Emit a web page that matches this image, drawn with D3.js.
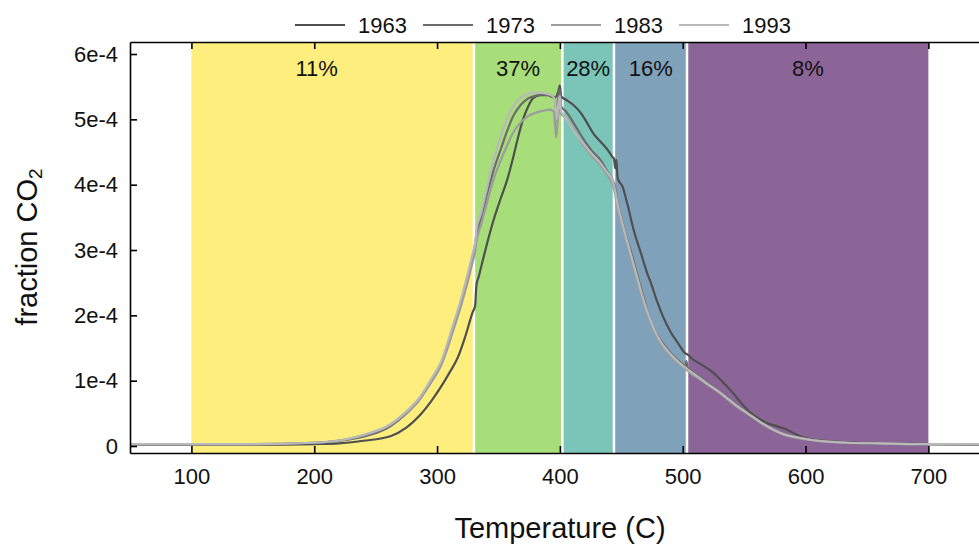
<!DOCTYPE html>
<html><head><meta charset="utf-8">
<script src="https://cdn.jsdelivr.net/npm/d3@7"></script>
<style>body{margin:0;background:#fff}text{font-family:"Liberation Sans",Arial,sans-serif;fill:#111}</style>
</head><body><svg id="c" width="979" height="546"></svg>
<script>
// ---- data (values in units of 1e-4) ----
const years = ["1963","1973","1983","1993"];
const lineColors = ["#4f4f4f","#6c6c6c","#9c9c9c","#b9b9b9"];
const bandEdges = [100,330,402,444,503.5,700];
const bandColors = ["#fdee7d","#a8de7a","#7ac4b8","#80a1ba","#8b6597"];
const bandLabels = ["11%","37%","28%","16%","8%"];
const bandLabelT = [202,366,423,474,602];
const xTicks = [100,200,300,400,500,600,700];
const yTicks = [0,1,2,3,4,5,6];
const yTickLabels = ["0","1e-4","2e-4","3e-4","4e-4","5e-4","6e-4"];

const s1963 = [[50,0.02],[100,0.02],[150,0.02],[200,0.03],[220,0.04],[240,0.08],[262,0.15],[275,0.28],[286,0.47],[295,0.68],[303,0.90],[310,1.12],[317,1.36],[323,1.68],[329,2.05],[331,2.15],[332,2.45],[334,2.60],[336,2.75],[340,3.05],[346,3.46],[352,3.80],[357,4.07],[362,4.42],[366,4.73],[370,5.00],[374,5.19],[378,5.32],[384,5.37],[390,5.37],[396,5.33],[399,5.45],[400,5.52],[401,5.35],[405,5.30],[411,5.22],[417,5.10],[422,4.95],[427,4.79],[433,4.66],[439,4.53],[443,4.42],[444,4.40],[445,4.25],[446,4.38],[447,4.10],[451,3.97],[455,3.70],[460,3.31],[466,2.95],[471,2.65],[474,2.50],[479,2.22],[484,1.98],[490,1.75],[496,1.58],[502,1.42],[504,1.40],[508,1.33],[515,1.25],[525,1.12],[533,0.97],[541,0.81],[548,0.65],[555,0.51],[562,0.42],[569,0.35],[577,0.30],[585,0.25],[592,0.18],[600,0.12],[620,0.07],[650,0.04],[700,0.03],[750,0.02]];
const s1973 = [[50,0.03],[100,0.03],[150,0.03],[200,0.05],[225,0.09],[245,0.17],[260,0.28],[272,0.45],[286,0.72],[295,0.98],[303,1.25],[313,1.80],[320,2.22],[325,2.58],[329,2.90],[331,3.10],[332,3.22],[336,3.50],[341,3.88],[346,4.22],[352,4.55],[357,4.82],[362,5.05],[368,5.22],[374,5.32],[380,5.36],[387,5.38],[393,5.36],[396,5.33],[397.5,4.98],[399,5.38],[400,5.45],[401,5.20],[405,5.12],[412,4.92],[419,4.70],[426,4.52],[433,4.38],[438,4.22],[443,4.07],[445,3.95],[447,3.72],[451,3.42],[455,3.15],[459,2.90],[463,2.62],[468,2.28],[472,2.02],[476,1.82],[482,1.62],[488,1.47],[494,1.35],[500,1.25],[502,1.22],[503,1.30],[504,1.20],[507,1.15],[514,1.06],[521,0.96],[528,0.86],[535,0.76],[543,0.64],[553,0.50],[563,0.37],[574,0.25],[584,0.18],[594,0.13],[610,0.09],[634,0.06],[660,0.04],[690,0.03],[750,0.02]];
const s1983 = [[50,0.03],[100,0.03],[150,0.03],[200,0.05],[225,0.10],[245,0.19],[260,0.30],[272,0.46],[286,0.72],[295,0.97],[303,1.22],[313,1.76],[320,2.18],[325,2.52],[329,2.82],[331,2.98],[332,3.12],[336,3.40],[341,3.75],[346,4.08],[352,4.38],[357,4.60],[362,4.80],[368,4.95],[374,5.05],[380,5.10],[386,5.13],[392,5.15],[395,5.12],[397,4.72],[398.5,5.05],[400,5.15],[401,5.08],[405,5.02],[412,4.82],[419,4.60],[426,4.44],[433,4.30],[438,4.16],[443,4.00],[445,3.85],[447,3.62],[451,3.35],[455,3.08],[460,2.75],[465,2.40],[470,2.08],[476,1.78],[482,1.57],[488,1.42],[494,1.31],[500,1.21],[507,1.11],[514,1.02],[521,0.93],[528,0.84],[535,0.74],[543,0.62],[553,0.49],[563,0.36],[574,0.24],[584,0.16],[594,0.12],[610,0.08],[634,0.05],[660,0.04],[690,0.03],[750,0.03]];
const s1993 = [[50,0.03],[100,0.03],[150,0.03],[200,0.05],[225,0.10],[245,0.20],[260,0.31],[272,0.48],[286,0.75],[295,1.02],[303,1.28],[313,1.85],[320,2.28],[325,2.64],[329,2.95],[331,3.12],[332,3.30],[336,3.58],[341,3.98],[346,4.38],[352,4.75],[357,5.02],[362,5.20],[368,5.33],[374,5.39],[380,5.41],[387,5.40],[393,5.37],[396,5.30],[397.5,5.00],[399,5.28],[400,5.36],[401,5.12],[405,5.02],[412,4.80],[419,4.63],[426,4.47],[433,4.33],[438,4.20],[443,4.06],[445,3.90],[447,3.70],[451,3.40],[455,3.12],[460,2.78],[465,2.44],[470,2.12],[476,1.82],[482,1.60],[488,1.45],[494,1.33],[500,1.23],[507,1.13],[514,1.04],[521,0.94],[528,0.85],[535,0.75],[543,0.63],[553,0.50],[563,0.37],[574,0.25],[584,0.17],[594,0.13],[610,0.08],[634,0.05],[660,0.04],[690,0.03],[750,0.03]];
const seriesList = [s1963,s1973,s1983,s1993];

// ---- layout ----
const svg = d3.select("#c");
const L=130, T=42, B=453;
const x = d3.scaleLinear().domain([50,750]).range([L,989.8]);
const y = d3.scaleLinear().domain([-0.107,6.184]).range([B,T]);

svg.append("clipPath").attr("id","clip").append("rect")
  .attr("x",L).attr("y",T).attr("width",979-L).attr("height",B-T);

const plot = svg.append("g").attr("clip-path","url(#clip)");

// bands
const bands = bandColors.map((c,i)=>({c, a:bandEdges[i], b:bandEdges[i+1], lab:bandLabels[i], lt:bandLabelT[i]}));
plot.selectAll("rect.band").data(bands).enter().append("rect").attr("class","band")
  .attr("x",d=>x(d.a)).attr("width",d=>x(d.b)-x(d.a))
  .attr("y",T).attr("height",B-T).attr("fill",d=>d.c);
plot.selectAll("line.sep").data(bandEdges.slice(1,-1)).enter().append("line")
  .attr("x1",d=>x(d)).attr("x2",d=>x(d)).attr("y1",T).attr("y2",B)
  .attr("stroke","#fff").attr("stroke-width",2.5);

// curves
const line = d3.line().x(d=>x(d[0])).y(d=>y(d[1])).curve(d3.curveMonotoneX);
plot.selectAll("path.s").data(seriesList).enter().append("path")
  .attr("d",line).attr("fill","none")
  .attr("stroke",(d,i)=>lineColors[i]).attr("stroke-width",2.2)
  .attr("stroke-linejoin","round");

// band labels
svg.selectAll("text.bl").data(bands).enter().append("text")
  .attr("x",d=>x(d.lt)).attr("y",68).attr("text-anchor","middle")
  .attr("dominant-baseline","central").attr("font-size",22).text(d=>d.lab);

// axes
function style(g){
  g.selectAll("path.domain").attr("stroke","#000").attr("stroke-width",1.6);
  g.selectAll(".tick line").attr("stroke","#000").attr("stroke-width",1.6);
  g.selectAll(".tick text").attr("font-size",22).attr("fill","#111")
   .attr("font-family",'"Liberation Sans",Arial,sans-serif');
}
svg.append("g").attr("transform",`translate(0,${B})`)
  .call(d3.axisBottom(x).tickValues(xTicks).tickFormat(d3.format("d")).tickSize(-7).tickSizeOuter(0).tickPadding(15))
  .call(style);
svg.append("g").attr("transform",`translate(0,${T})`)
  .call(d3.axisTop(x).tickValues(xTicks).tickFormat("").tickSize(-7).tickSizeOuter(0))
  .call(style);
svg.append("g").attr("transform",`translate(${L},0)`)
  .call(d3.axisLeft(y).tickValues(yTicks).tickFormat((d,i)=>yTickLabels[i]).tickSize(-7).tickSizeOuter(0).tickPadding(12))
  .call(style);

// axis titles
svg.append("text").attr("x",560).attr("y",528).attr("text-anchor","middle")
  .attr("dominant-baseline","central").attr("font-size",29).text("Temperature (C)");
const yt = svg.append("text").attr("transform","translate(27,247) rotate(-90)")
  .attr("text-anchor","middle").attr("dominant-baseline","central").attr("font-size",29);
yt.append("tspan").text("fraction CO");
yt.append("tspan").attr("font-size",19).attr("dy",8).text("2");

// legend
const leg = svg.selectAll("g.leg").data(years).enter().append("g")
  .attr("transform",(d,i)=>`translate(${295+i*128},25)`);
leg.append("line").attr("x1",0).attr("x2",50).attr("y1",0).attr("y2",0)
  .attr("stroke",(d,i)=>lineColors[i]).attr("stroke-width",2.2);
leg.append("text").attr("x",63).attr("y",0).attr("dominant-baseline","central")
  .attr("font-size",22).text(d=>d);
</script></body></html>
